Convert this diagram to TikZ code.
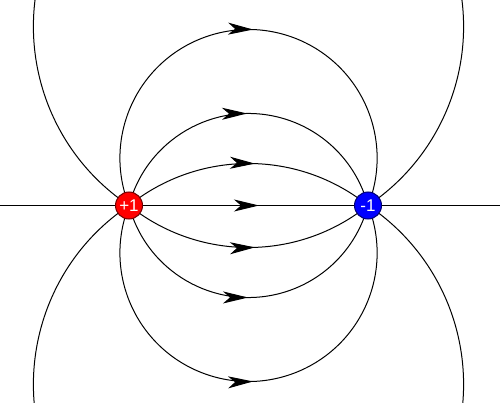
\documentclass[tikz,border=0pt]{standalone}
\usepackage{fontspec}
\setmainfont{Liberation Sans}
\usetikzlibrary{arrows.meta,decorations.markings}
\pgfdeclarelayer{bg}
\pgfsetlayers{bg,main}
\begin{document}
\begin{tikzpicture}[x=1pt,y=1pt,
  field/.style={line width=1pt, black},
  arrowat/.style={postaction={decorate}, decoration={markings,
      mark=at position #1 with {\arrow{Stealth[length=25pt,width=12pt,inset=7pt]}}}},
  charge/.style={circle, line width=1pt, minimum size=27pt, inner sep=0pt,
      text=white, font=\fontsize{17}{17}\selectfont}]
\useasboundingbox (0,0) rectangle (500,402);
\clip (0,0) rectangle (500,402);
\coordinate (L) at (0,196.5);
\coordinate (R) at (500,196.5);
\node[charge, fill=red, draw=red!45!black] (pos) at (129,196.5) {+1};
\node[charge, fill=blue, draw=blue!45!black] (neg) at (368,196.5) {-1};
\begin{pgfonlayer}{bg}
  \draw[field, arrowat=0.518] (L) -- (R);
  % upper field lines
  \draw[field, arrowat=0.525] (pos.center) arc[start angle=128.73, end angle=51.27, radius=191];
  \draw[field, arrowat=0.4954] (pos.center) arc[start angle=165.19, end angle=14.81, radius=123.6];
  \draw[field, arrowat=0.509] (pos.center) arc[start angle=201.63, end angle=-21.63, radius=128.6];
  \draw[field] (pos.center) arc[start angle=236.25, end angle=-56.25, radius=215.1];
  % lower field lines
  \draw[field, arrowat=0.525] (pos.center) arc[start angle=-128.73, end angle=-51.27, radius=191];
  \draw[field, arrowat=0.4985] (pos.center) arc[start angle=-165.19, end angle=-14.81, radius=123.6];
  \draw[field, arrowat=0.509] (pos.center) arc[start angle=-201.63, end angle=21.63, radius=128.6];
  \draw[field] (pos.center) arc[start angle=-236.25, end angle=56.25, radius=215.1];
\end{pgfonlayer}
\end{tikzpicture}
\end{document}
